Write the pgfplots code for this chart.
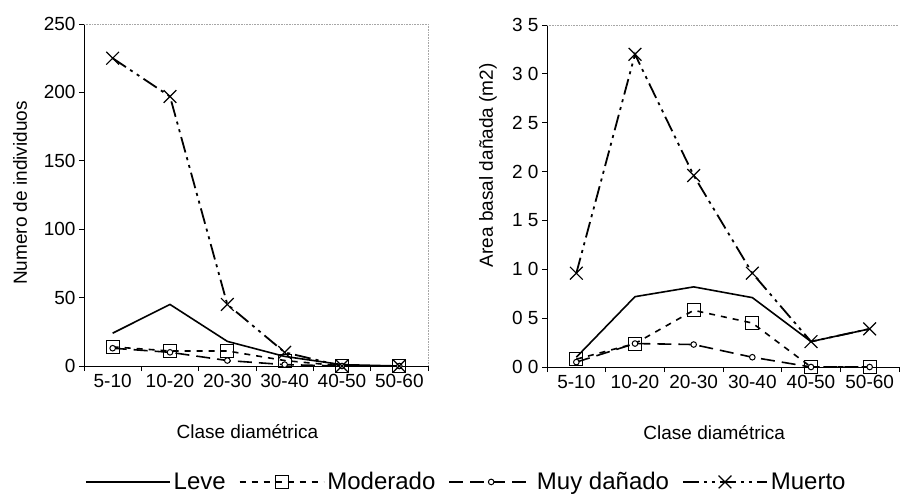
\documentclass[border=0pt]{standalone}
\usepackage{fontspec}
\setmainfont{Liberation Sans}
\usepackage{pgfplots}
\pgfplotsset{compat=1.18}
\begin{document}
\begin{tikzpicture}
\pgfplotsset{
  panel/.style={
    scale only axis, anchor=south west,
    xmin=0, xmax=6, height=342pt,
    axis lines*=left, axis line style={black, line width=1pt},
    xtick={0.5,1.5,...,5.5},
    xticklabels={5-10,10-20,20-30,30-40,40-50,50-60},
    major x tick style={draw=none},
    minor xtick={0,1,...,6},
    minor x tick style={black, line width=0.8pt},
    tick align=outside, major tick length=5pt, minor tick length=5pt,
    y tick style={black, line width=0.8pt},
    ticklabel style={font=\fontsize{19}{21}\selectfont},
    label style={font=\fontsize{19}{22}\selectfont},
    /pgf/number format/assume math mode=true,
    clip=false,
  },
  leve/.style={black, line width=1.6pt, mark=none},
  mod/.style={black, line width=1.6pt, dash pattern=on 6pt off 6pt,
    mark=square, mark size=6.5pt, mark options={solid, line width=1pt}},
  muy/.style={black, line width=1.6pt, dash pattern=on 14pt off 7pt,
    mark=*, mark size=2.8pt, mark options={solid, line width=1pt, fill=white}},
  muerto/.style={black, line width=1.8pt,
    dash pattern=on 16pt off 5pt on 3pt off 5pt on 3pt off 5pt,
    mark=x, mark size=9pt, mark options={solid, line width=1.2pt}},
}

% left panel: numero de individuos
\begin{axis}[panel,
  at={(84pt,132pt)}, width=344pt,
  ymin=0, ymax=250, ytick={0,50,...,250},
  xlabel={Clase diamétrica},
  xlabel style={at={(axis description cs:0.475,-0.193)}, anchor=center},
  ylabel={Numero de individuos},
  ylabel style={at={(axis description cs:-0.186,0.506)}, anchor=center},
  legend style={at={(1.11,-0.339)}, anchor=center, draw=none, fill=none,
    legend columns=4, font=\fontsize{24}{26}\selectfont,
    nodes={inner sep=1pt},
    /tikz/every odd column/.append style={column sep=2pt},
    /tikz/every even column/.append style={column sep=12pt}},
  legend image code/.code={\draw[#1, mark repeat=2, mark phase=2]
    plot coordinates {(0pt,0pt) (42pt,0pt) (84pt,0pt)};},
]
\addplot[leve] coordinates {(0.5,24) (1.5,45) (2.5,18) (3.5,7) (4.5,1) (5.5,0)};
\addlegendentry{Leve}
\addplot[mod] coordinates {(0.5,14) (1.5,11) (2.5,11) (3.5,4) (4.5,0) (5.5,0)};
\addlegendentry{Moderado}
\addplot[muy] coordinates {(0.5,13) (1.5,10) (2.5,4) (3.5,1) (4.5,0) (5.5,0)};
\addlegendentry{Muy dañado}
\addplot[muerto] coordinates {(0.5,225) (1.5,197) (2.5,45) (3.5,10) (4.5,0) (5.5,0)};
\addlegendentry{Muerto}
\draw[gray!70, densely dotted, line width=0.6pt]
  (rel axis cs:0,1) -- (rel axis cs:1,1) -- (rel axis cs:1,0);
\end{axis}

% right panel: area basal
\begin{axis}[panel,
  at={(547pt,131pt)}, width=352pt,
  ymin=0, ymax=3.5, ytick={0,0.5,...,3.5},
  yticklabels={0 0,0 5,1 0,1 5,2 0,2 5,3 0,3 5},
  xlabel={Clase diamétrica},
  xlabel style={at={(axis description cs:0.475,-0.193)}, anchor=center},
  ylabel={Area basal dañada (m2)},
  ylabel style={at={(axis description cs:-0.168,0.59)}, anchor=center},
]
\addplot[leve] coordinates {(0.5,0.1) (1.5,0.72) (2.5,0.82) (3.5,0.71) (4.5,0.26) (5.5,0.39)};
\addplot[mod] coordinates {(0.5,0.08) (1.5,0.24) (2.5,0.58) (3.5,0.45) (4.5,0) (5.5,0)};
\addplot[muy] coordinates {(0.5,0.05) (1.5,0.24) (2.5,0.23) (3.5,0.1) (4.5,0) (5.5,0)};
\addplot[muerto] coordinates {(0.5,0.96) (1.5,3.2) (2.5,1.96) (3.5,0.96) (4.5,0.26) (5.5,0.39)};
\draw[gray!70, densely dotted, line width=0.6pt]
  (rel axis cs:0,1) -- (rel axis cs:1,1);
\end{axis}

\pgfresetboundingbox
\path[use as bounding box] (0,0) rectangle (901pt,498pt);
\end{tikzpicture}
\end{document}
